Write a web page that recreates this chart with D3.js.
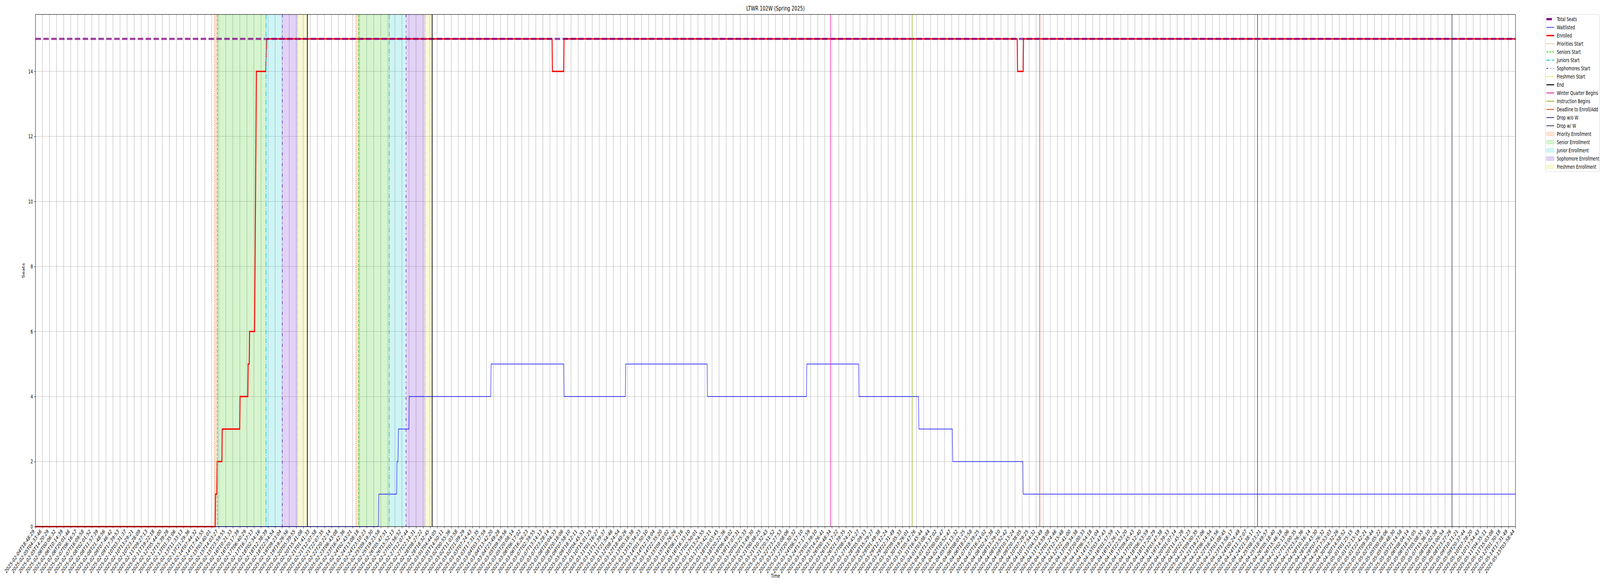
<!DOCTYPE html>
<html>
<head>
<meta charset="utf-8">
<script src="https://cdn.jsdelivr.net/npm/d3@7"></script>
<style>
  html, body { margin: 0; padding: 0; width: 100%; height: 100%; background: #fff; overflow: hidden; }
  svg { display: block; width: 100vw; height: 100vh; font-family: "DejaVu Sans", sans-serif; }
</style>
</head>
<body>
<svg id="chart" viewBox="0 0 6000 1500" preserveAspectRatio="none"></svg>
<script>
// tick labels, one per grid line (every Nth sample)
var tickLabels = [
  '2025-02-04T18:48:29','2025-02-05T04:33:46','2025-02-05T14:20:29','2025-02-06T00:06:32','2025-02-06T10:14:39',
  '2025-02-06T20:01:46','2025-02-07T06:16:57','2025-02-07T16:09:58','2025-02-08T02:01:52','2025-02-08T11:57:39',
  '2025-02-08T21:48:56','2025-02-09T07:46:42','2025-02-09T17:39:53','2025-02-10T03:31:37','2025-02-10T13:29:21',
  '2025-02-10T23:28:09','2025-02-11T09:27:13','2025-02-11T19:22:18','2025-02-12T05:44:00','2025-02-12T15:39:28',
  '2025-02-13T01:35:06','2025-02-13T11:33:13','2025-02-13T21:29:36','2025-02-14T07:44:32','2025-02-14T17:41:55',
  '2025-02-15T03:40:01','2025-02-15T14:03:27','2025-02-15T23:59:55','2025-02-16T10:21:33','2025-02-16T20:17:39',
  '2025-02-17T06:40:29','2025-02-17T16:37:13','2025-02-18T02:34:16','2025-02-18T12:38:39','2025-02-18T22:54:54',
  '2025-02-19T09:23:04','2025-02-19T19:26:56','2025-02-20T05:39:55','2025-02-20T15:41:08','2025-02-21T01:41:33',
  '2025-02-21T12:07:58','2025-02-21T22:07:35','2025-02-22T20:22:14','2025-02-23T06:43:08','2025-02-23T16:42:36',
  '2025-02-24T02:43:21','2025-02-24T13:08:18','2025-02-24T23:10:23','2025-02-25T09:19:30','2025-02-25T19:23:58',
  '2025-02-26T05:47:51','2025-02-26T15:52:13','2025-02-27T01:56:52','2025-02-27T12:07:44','2025-02-27T22:14:31',
  '2025-02-28T08:27:22','2025-02-28T18:32:45','2025-03-01T04:44:05','2025-03-01T14:50:11','2025-03-02T00:55:36',
  '2025-03-02T11:03:58','2025-03-02T21:09:29','2025-03-03T07:24:43','2025-03-03T17:31:35','2025-03-04T03:37:59',
  '2025-03-04T13:42:20','2025-03-04T23:49:28','2025-03-05T09:59:56','2025-03-05T20:08:14','2025-03-06T06:17:02',
  '2025-03-06T16:26:23','2025-03-07T02:39:55','2025-03-07T13:14:13','2025-03-07T23:28:14','2025-03-08T10:04:33',
  '2025-03-08T20:18:06','2025-03-09T07:58:10','2025-03-09T18:12:11','2025-03-10T04:45:51','2025-03-10T15:01:25',
  '2025-03-11T01:16:27','2025-03-11T11:39:37','2025-03-11T21:54:46','2025-03-12T08:24:54','2025-03-12T18:40:26',
  '2025-03-13T05:18:38','2025-03-13T15:34:23','2025-03-14T01:50:10','2025-03-14T12:19:04','2025-03-14T22:35:20',
  '2025-03-15T09:10:02','2025-03-15T19:26:26','2025-03-16T06:17:16','2025-03-16T16:33:10','2025-03-17T02:50:01',
  '2025-03-17T13:24:55','2025-03-17T23:42:11','2025-03-18T10:03:45','2025-03-18T20:22:36','2025-03-19T06:49:02',
  '2025-03-19T17:07:31','2025-03-20T03:25:33','2025-03-20T13:49:30','2025-03-21T00:08:25','2025-03-21T10:32:43',
  '2025-03-21T20:51:52','2025-03-22T23:27:53','2025-03-23T10:08:06','2025-03-23T20:30:32','2025-03-24T06:57:10',
  '2025-03-24T17:17:59','2025-03-25T03:39:10','2025-03-25T14:26:41','2025-03-26T00:48:34','2025-03-26T11:17:22',
  '2025-03-26T21:39:35','2025-03-27T08:24:21','2025-03-27T18:45:27','2025-03-28T05:09:13','2025-03-28T15:29:27',
  '2025-03-29T01:49:38','2025-03-29T12:12:24','2025-03-29T22:31:49','2025-03-30T09:05:33','2025-03-30T19:26:01',
  '2025-03-31T05:47:26','2025-03-31T16:45:44','2025-04-01T03:08:44','2025-04-01T13:37:02','2025-04-02T00:00:47',
  '2025-04-02T10:52:47','2025-04-05T21:13:32','2025-04-06T08:01:25','2025-04-06T18:23:58','2025-04-07T05:39:25',
  '2025-04-07T16:24:02','2025-04-08T02:47:38','2025-04-08T13:29:10','2025-04-08T23:52:42','2025-04-09T10:13:24',
  '2025-04-09T20:38:05','2025-04-10T07:29:25','2025-04-10T17:54:32','2025-04-11T04:33:49','2025-04-11T14:59:08',
  '2025-04-12T01:24:46','2025-04-12T12:15:48','2025-04-12T22:41:00','2025-04-13T09:34:38','2025-04-13T20:00:33',
  '2025-04-14T06:54:18','2025-04-14T17:21:04','2025-04-15T03:47:43','2025-04-16T01:57:59','2025-04-16T12:26:11',
  '2025-04-16T22:53:20','2025-04-17T09:45:43','2025-04-17T20:12:40','2025-04-18T06:53:59','2025-04-18T17:20:29',
  '2025-04-19T03:47:38','2025-04-19T14:39:33','2025-04-20T01:07:14','2025-04-20T11:45:28','2025-04-20T22:11:23',
  '2025-04-21T09:00:35','2025-04-21T19:27:06','2025-04-22T06:14:54','2025-04-22T16:41:56','2025-04-23T03:08:45',
  '2025-04-23T13:58:17','2025-04-24T00:24:49','2025-04-24T11:12:07','2025-04-24T21:38:17','2025-04-25T08:23:21',
  '2025-04-25T18:49:57','2025-04-26T05:18:40','2025-04-26T15:46:18','2025-04-27T02:13:06','2025-04-27T13:00:35',
  '2025-04-27T23:26:36','2025-04-28T10:16:14','2025-04-28T20:43:30','2025-04-29T07:26:32','2025-04-29T17:53:03',
  '2025-04-30T04:32:26','2025-04-30T14:58:52','2025-05-01T01:25:15','2025-05-01T12:15:19','2025-05-01T22:42:21',
  '2025-05-02T09:38:44','2025-05-02T20:05:22','2025-05-05T00:08:06','2025-05-05T10:48:30','2025-05-05T21:14:58',
  '2025-05-06T08:04:14','2025-05-06T18:31:05','2025-05-07T05:08:55','2025-05-07T15:36:10','2025-05-08T02:02:58',
  '2025-05-08T13:00:54','2025-05-08T23:27:26','2025-05-09T10:11:21','2025-05-09T20:37:44','2025-05-10T07:28:20',
  '2025-05-10T17:54:43','2025-05-11T04:35:11','2025-05-11T15:03:08','2025-05-12T01:30:18','2025-05-14T17:31:49',
  '2025-05-15T03:58:44'
];

// positions are in tick-index units (0 = first tick label)
var totalX = [0, 210];
var totalY = [15, 15];

var enrolledX = [0, 25.50, 25.55, 25.73, 25.78, 26.45, 26.50, 28.98, 29.03, 30.13, 30.18, 30.33, 30.38,
  31.09, 31.35, 32.67, 32.80, 73.30, 73.35, 74.95, 75.00, 139.30, 139.35, 140.15, 140.20, 210];
var enrolledY = [0, 0, 1, 1, 2, 2, 3, 3, 4, 4, 5, 5, 6, 6, 14, 14, 15, 15, 14, 14, 15, 15, 14, 14, 15, 15];

var waitlistX = [0, 48.66, 48.72, 51.25, 51.30, 51.44, 51.50, 52.98, 53.04, 64.60, 64.65, 74.95, 75.00,
  83.70, 83.75, 95.30, 95.35, 109.40, 109.45, 116.80, 116.85, 125.30, 125.35, 130.10, 130.15, 140.10, 140.15, 210];
var waitlistY = [0, 0, 1, 1, 2, 2, 3, 3, 4, 4, 5, 5, 4, 4, 5, 5, 4, 4, 5, 5, 4, 4, 3, 3, 2, 2, 1, 1];

// enrollment pass starts (first pass, second pass)
var prioritiesStart = [25.38, 45.47];
var seniorsStart = [25.81, 45.86];
var juniorsStart = [32.72, 50.20];
var sophomoresStart = [35.02, 52.58];
var freshmenStart = [37.19, 55.30];
var endTimes = [38.58, 56.29];

var winterBegins = [112.8];
var instructionBegins = [124.4];
var enrollDeadline = [142.5];
var dropNoW = [173.4];
var dropW = [201.0];

var yTicks = [0, 2, 4, 6, 8, 10, 12, 14];

var svg = d3.select('#chart');
var plotL = 133, plotR = 5683, plotT = 37, plotB = 1348;
var fs = 13.9;

var x = d3.scaleLinear().domain([0, tickLabels.length - 1]).range([plotL, plotR]);
var y = d3.scaleLinear().domain([0, 15.75]).range([plotB, plotT]);

// grid
svg.append('g').selectAll('line').data(d3.range(tickLabels.length)).enter().append('line')
  .attr('x1', function(d){ return x(d); }).attr('x2', function(d){ return x(d); })
  .attr('y1', plotT).attr('y2', plotB)
  .attr('stroke', '#b0b0b0').attr('stroke-width', 1.4);
svg.append('g').selectAll('line').data(yTicks).enter().append('line')
  .attr('x1', plotL).attr('x2', plotR)
  .attr('y1', function(d){ return y(d); }).attr('y2', function(d){ return y(d); })
  .attr('stroke', '#b0b0b0').attr('stroke-width', 1);

// shaded enrollment windows
var spans = [
  {from: prioritiesStart, to: seniorsStart, color: '#ef6c2e', label: 'Priority Enrollment'},
  {from: seniorsStart, to: juniorsStart, color: '#33cc11', label: 'Senior Enrollment'},
  {from: juniorsStart, to: sophomoresStart, color: '#0fcad0', label: 'Junior Enrollment'},
  {from: sophomoresStart, to: freshmenStart, color: '#6a1fd1', label: 'Sophomore Enrollment'},
  {from: freshmenStart, to: endTimes, color: '#dede2a', label: 'Freshmen Enrollment'}
];
spans.forEach(function(s){
  s.from.forEach(function(f, i){
    svg.append('rect')
      .attr('x', x(f)).attr('width', x(s.to[i]) - x(f))
      .attr('y', plotT).attr('height', plotB - plotT)
      .attr('fill', s.color).attr('fill-opacity', 0.2);
  });
});

function series(xs, ys){
  return xs.map(function(v, i){ return [v, ys[i]]; });
}
var line = d3.line().x(function(d){ return x(d[0]); }).y(function(d){ return y(d[1]); });

svg.append('path').attr('d', line(series(waitlistX, waitlistY)))
  .attr('fill', 'none').attr('stroke', '#0000ff').attr('stroke-width', 1.5);
svg.append('path').attr('d', line(series(enrolledX, enrolledY)))
  .attr('fill', 'none').attr('stroke', '#ff0000').attr('stroke-width', 3.5);
svg.append('path').attr('d', line(series(totalX, totalY)))
  .attr('fill', 'none').attr('stroke', '#800080').attr('stroke-width', 5.6)
  .attr('stroke-opacity', 0.75).attr('stroke-dasharray', '20.6,8.9');

// event lines
var events = [
  {at: prioritiesStart, label: 'Priorities Start', color: '#ef6c2e', w: 2, dash: '2,3.3'},
  {at: seniorsStart, label: 'Seniors Start', color: '#33cc11', w: 2.2, dash: '7.7,3.3'},
  {at: juniorsStart, label: 'Juniors Start', color: '#0fcad0', w: 2.4, dash: '13,3.3,2.2,3.3'},
  {at: sophomoresStart, label: 'Sophomores Start', color: '#6a1fd1', w: 2.2, dash: '7,9,2.2,9'},
  {at: freshmenStart, label: 'Freshmen Start', color: '#dede2a', w: 2, dash: '7,2.5,2,2.5,2,2.5'},
  {at: endTimes, label: 'End', color: '#000000', w: 2.6, dash: null},
  {at: winterBegins, label: 'Winter Quarter Begins', color: '#e0169b', w: 2, dash: null},
  {at: instructionBegins, label: 'Instruction Begins', color: '#8db31c', w: 2, dash: null},
  {at: enrollDeadline, label: 'Deadline to Enroll/Add', color: '#d2401b', w: 2, dash: null},
  {at: dropNoW, label: 'Drop w/o W', color: '#2b2b8f', w: 2, dash: null},
  {at: dropW, label: 'Drop w/ W', color: '#2e3b58', w: 2, dash: null}
];
events.forEach(function(e){
  e.at.forEach(function(t){
    svg.append('line')
      .attr('x1', x(t)).attr('x2', x(t)).attr('y1', plotT).attr('y2', plotB)
      .attr('stroke', e.color).attr('stroke-width', e.w)
      .attr('stroke-dasharray', e.dash);
  });
});

// frame
svg.append('rect').attr('x', plotL).attr('y', plotT)
  .attr('width', plotR - plotL).attr('height', plotB - plotT)
  .attr('fill', 'none').attr('stroke', '#000').attr('stroke-width', 1.1);

// x axis
var xAxis = d3.axisBottom(x).tickValues(d3.range(tickLabels.length))
  .tickFormat(function(i){ return tickLabels[i]; }).tickSize(4.9).tickPadding(4);
var gx = svg.append('g').attr('transform', 'translate(0,' + plotB + ')').call(xAxis);
gx.select('.domain').remove();
gx.selectAll('line').attr('stroke', '#000').attr('stroke-width', 1.1);
gx.selectAll('text')
  .attr('font-size', fs).attr('font-family', 'DejaVu Sans').attr('fill', '#000')
  .attr('text-anchor', 'end').attr('dy', null).attr('y', null)
  .attr('transform', 'translate(-3,13) rotate(-45)');

// y axis
var yAxis = d3.axisLeft(y).tickValues(yTicks).tickSize(4.9).tickPadding(4.5);
var gy = svg.append('g').attr('transform', 'translate(' + plotL + ',0)').call(yAxis);
gy.select('.domain').remove();
gy.selectAll('line').attr('stroke', '#000').attr('stroke-width', 1.1);
gy.selectAll('text').attr('font-size', fs).attr('font-family', 'DejaVu Sans').attr('fill', '#000');

svg.append('text').attr('x', (plotL + plotR) / 2).attr('y', 27)
  .attr('text-anchor', 'middle').attr('font-size', 16.7).text('LTWR 102W (Spring 2025)');
svg.append('text').attr('x', (plotL + plotR) / 2).attr('y', 1479)
  .attr('text-anchor', 'middle').attr('font-size', fs).text('Time');
svg.append('text').attr('transform', 'translate(92,' + ((plotT + plotB) / 2) + ') rotate(-90)')
  .attr('text-anchor', 'middle').attr('font-size', fs).text('Seats');

// legend
var legendItems = [
  {label: 'Total Seats', kind: 'line', color: '#800080', w: 5.6, dash: '20.6,8.9'},
  {label: 'Waitlisted', kind: 'line', color: '#0000ff', w: 1.5, dash: null},
  {label: 'Enrolled', kind: 'line', color: '#ff0000', w: 3.5, dash: null}
];
events.forEach(function(e){
  legendItems.push({label: e.label, kind: 'line', color: e.color, w: e.w, dash: e.dash});
});
spans.forEach(function(s){
  legendItems.push({label: s.label, kind: 'patch', color: s.color});
});

var lg = svg.append('g').attr('transform', 'translate(5795,37)');
lg.append('rect').attr('width', 204).attr('height', 402).attr('rx', 4)
  .attr('fill', '#fff').attr('fill-opacity', 0.8).attr('stroke', '#cccccc').attr('stroke-width', 1);
legendItems.forEach(function(it, i){
  var cy = 12 + i * 21;
  if (it.kind === 'line') {
    lg.append('line').attr('x1', 4).attr('x2', 33).attr('y1', cy).attr('y2', cy)
      .attr('stroke', it.color).attr('stroke-width', it.w).attr('stroke-dasharray', it.dash);
  } else {
    lg.append('rect').attr('x', 4).attr('y', cy - 4.9).attr('width', 29).attr('height', 9.7)
      .attr('fill', it.color).attr('fill-opacity', 0.2)
      .attr('stroke', it.color).attr('stroke-opacity', 0.25);
  }
  lg.append('text').attr('x', 43).attr('y', cy).attr('dy', '0.35em')
    .attr('font-size', fs).text(it.label);
});
</script>
</body>
</html>
